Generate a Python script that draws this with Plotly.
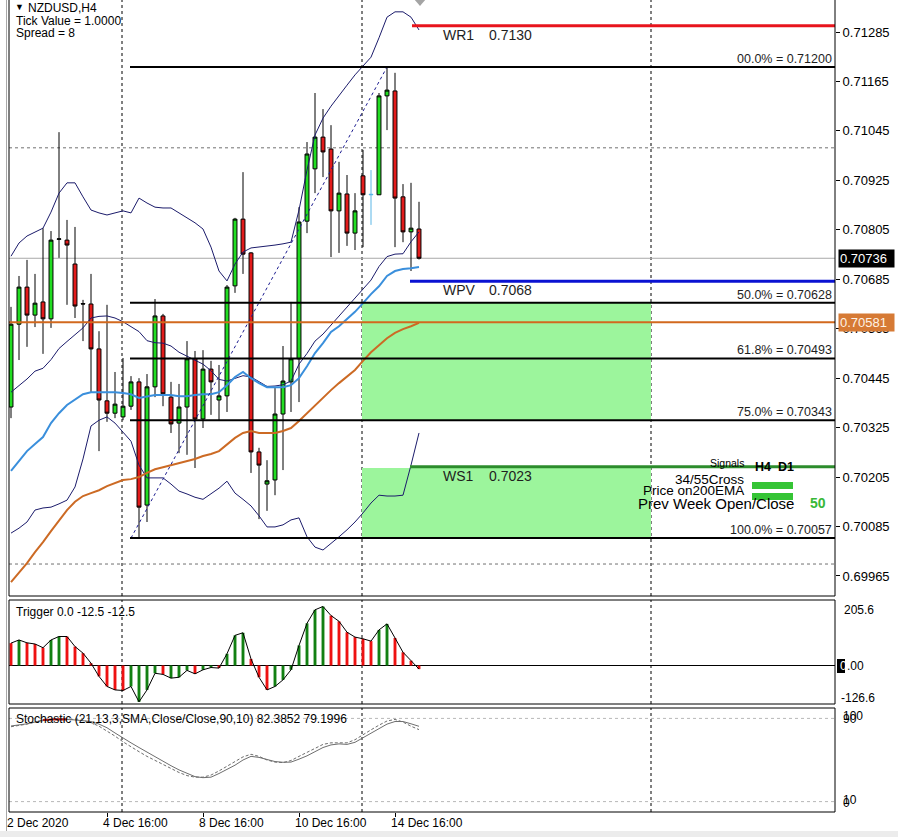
import plotly.graph_objects as go

W, H = 898, 837

# ---------------- data ----------------
opens = [0.70375, 0.70576, 0.70666, 0.70598, 0.70630, 0.70589, 0.70782, 0.70780, 0.70722, 0.70626,
         0.70625, 0.70516, 0.70390, 0.70360, 0.70351, 0.70377, 0.70436, 0.70137, 0.70424, 0.70596,
         0.70399, 0.70336, 0.70375, 0.70492, 0.70346, 0.70467, 0.70392, 0.70402, 0.70669, 0.70831,
         0.70749, 0.70266, 0.70188, 0.70198, 0.70358, 0.70436, 0.70492, 0.70826, 0.70953, 0.71030,
         0.71001, 0.70851, 0.70892, 0.70797, 0.70936, 0.70890, 0.70890, 0.71130, 0.71142, 0.70885,
         0.70800, 0.70807]
highs = [0.70618, 0.70693, 0.70732, 0.70698, 0.70809, 0.70802, 0.71042, 0.70829, 0.70812, 0.70635,
         0.70698, 0.70559, 0.70623, 0.70460, 0.70494, 0.70450, 0.70445, 0.70455, 0.70637, 0.70601,
         0.70436, 0.70431, 0.70535, 0.70511, 0.70513, 0.70487, 0.70477, 0.70671, 0.70834, 0.70945,
         0.70751, 0.70276, 0.70246, 0.70421, 0.70523, 0.70630, 0.70860, 0.71018, 0.71137, 0.71098,
         0.71059, 0.70970, 0.70938, 0.70894, 0.70999, 0.70950, 0.71137, 0.71200, 0.71186, 0.70916,
         0.70919, 0.70873]
lows = [0.70348, 0.70489, 0.70521, 0.70569, 0.70504, 0.70567, 0.70737, 0.70623, 0.70591, 0.70535,
        0.70411, 0.70268, 0.70339, 0.70348, 0.70343, 0.70368, 0.70057, 0.70096, 0.70399, 0.70377,
        0.70312, 0.70263, 0.70259, 0.70227, 0.70324, 0.70356, 0.70341, 0.70363, 0.70652, 0.70698,
        0.70215, 0.70103, 0.70123, 0.70161, 0.70222, 0.70363, 0.70387, 0.70797, 0.70894, 0.70933,
        0.70739, 0.70749, 0.70766, 0.70756, 0.70763, 0.70817, 0.70890, 0.71047, 0.70763, 0.70775,
        0.70705, 0.70733]
closes = [0.70576, 0.70666, 0.70598, 0.70627, 0.70589, 0.70780, 0.70783, 0.70768, 0.70620, 0.70625,
          0.70516, 0.70392, 0.70360, 0.70382, 0.70377, 0.70436, 0.70132, 0.70424, 0.70596, 0.70407,
          0.70334, 0.70375, 0.70492, 0.70346, 0.70467, 0.70436, 0.70402, 0.70666, 0.70831, 0.70746,
          0.70266, 0.70234, 0.70196, 0.70358, 0.70438, 0.70492, 0.70824, 0.70989, 0.71030, 0.70994,
          0.70851, 0.70894, 0.70797, 0.70851, 0.70890, 0.70891, 0.71130, 0.71144, 0.70882, 0.70800,
          0.70809, 0.70736]
special_idx = 45  # light-blue marker bar

bb_upper = [0.70741, 0.70773, 0.70790, 0.70800, 0.70809, 0.70848, 0.70894, 0.70919, 0.70919, 0.70885,
            0.70853, 0.70846, 0.70841, 0.70846, 0.70851, 0.70846, 0.70882, 0.70870, 0.70860, 0.70858,
            0.70858, 0.70846, 0.70834, 0.70822, 0.70807, 0.70763, 0.70705, 0.70681, 0.70722, 0.70751,
            0.70761, 0.70763, 0.70766, 0.70768, 0.70771, 0.70775, 0.70853, 0.70950, 0.71035, 0.71076,
            0.71105, 0.71132, 0.71156, 0.71181, 0.71203, 0.71224, 0.71271, 0.71321, 0.71334, 0.71334,
            0.71321, 0.71290]
bb_middle = [0.70411, 0.70427, 0.70443, 0.70462, 0.70469, 0.70490, 0.70517, 0.70534, 0.70550, 0.70567,
             0.70591, 0.70595, 0.70596, 0.70591, 0.70582, 0.70569, 0.70558, 0.70536, 0.70531, 0.70530,
             0.70523, 0.70508, 0.70499, 0.70489, 0.70479, 0.70463, 0.70442, 0.70438, 0.70444, 0.70451,
             0.70448, 0.70437, 0.70425, 0.70426, 0.70429, 0.70438, 0.70479, 0.70505, 0.70535, 0.70552,
             0.70574, 0.70596, 0.70617, 0.70638, 0.70660, 0.70683, 0.70716, 0.70740, 0.70746, 0.70747,
             0.70776, 0.70800]
bb_lower = [0.70069, 0.70081, 0.70096, 0.70125, 0.70130, 0.70132, 0.70140, 0.70149, 0.70181, 0.70249,
            0.70329, 0.70343, 0.70351, 0.70336, 0.70314, 0.70292, 0.70234, 0.70203, 0.70203, 0.70203,
            0.70188, 0.70171, 0.70164, 0.70156, 0.70151, 0.70164, 0.70178, 0.70195, 0.70166, 0.70151,
            0.70135, 0.70111, 0.70084, 0.70084, 0.70089, 0.70101, 0.70106, 0.70060, 0.70035, 0.70028,
            0.70043, 0.70060, 0.70077, 0.70096, 0.70118, 0.70142, 0.70161, 0.70159, 0.70159, 0.70161,
            0.70234, 0.70312]
ma_blue = [0.70220, 0.70244, 0.70268, 0.70285, 0.70302, 0.70336, 0.70360, 0.70380, 0.70394, 0.70406,
           0.70411, 0.70411, 0.70411, 0.70411, 0.70409, 0.70406, 0.70397, 0.70401, 0.70404, 0.70404,
           0.70404, 0.70401, 0.70401, 0.70404, 0.70406, 0.70406, 0.70411, 0.70428, 0.70448, 0.70460,
           0.70445, 0.70433, 0.70423, 0.70423, 0.70423, 0.70428, 0.70445, 0.70474, 0.70506, 0.70530,
           0.70557, 0.70571, 0.70588, 0.70606, 0.70627, 0.70649, 0.70668, 0.70693, 0.70705, 0.70710,
           0.70712, 0.70715]
ma_orange = [0.69950, 0.69974, 0.69996, 0.70023, 0.70047, 0.70074, 0.70101, 0.70125, 0.70145, 0.70159,
             0.70166, 0.70173, 0.70183, 0.70190, 0.70198, 0.70200, 0.70205, 0.70215, 0.70224, 0.70229,
             0.70234, 0.70239, 0.70244, 0.70249, 0.70256, 0.70261, 0.70268, 0.70285, 0.70300, 0.70312,
             0.70317, 0.70312, 0.70312, 0.70312, 0.70317, 0.70324, 0.70341, 0.70360, 0.70380, 0.70399,
             0.70416, 0.70433, 0.70448, 0.70465, 0.70487, 0.70508, 0.70525, 0.70542, 0.70555, 0.70564,
             0.70571, 0.70579]

trigger = [78, 89, 79, 75, 62, 89, 101, 101, 66, 43,
           8, -38, -73, -85, -87, -73, -126.6, -85, -27, -31,
           -44, -41, -17, -29, -15, -7, -9, 41, 105, 114,
           23, -41, -85, -73, -50, -15, 70, 147, 194, 205.6,
           174, 154, 116, 99, 93, 85, 124, 145, 96, 46,
           17, -12.5]
trigger_dir = ["r", "g", "r", "r", "r", "g", "g", "r", "r", "r",
               "r", "r", "r", "r", "r", "g", "g", "g", "g", "r",
               "g", "g", "g", "r", "g", "g", "r", "g", "g", "g",
               "r", "r", "r", "g", "g", "g", "g", "g", "g", "g",
               "r", "r", "r", "r", "r", "r", "g", "g", "r", "r",
               "r", "r"]

stoch_main = [82.7, 83.5, 84.8, 86.5, 88.5, 89.0, 89.2, 89.0, 88.5, 88.0,
              87.0, 84.5, 81.0, 76.0, 71.0, 66.5, 62.0, 57.5, 53.0, 49.0,
              44.5, 40.5, 37.0, 34.0, 33.0, 33.5, 37.0, 41.0, 45.0, 50.0,
              53.5, 52.5, 50.5, 48.5, 47.8, 48.0, 50.8, 54.0, 58.0, 62.0,
              64.5, 65.5, 65.0, 67.0, 71.4, 76.0, 80.5, 84.5, 87.0, 87.0,
              84.8, 82.4]
stoch_signal = [82.0, 83.0, 84.5, 86.5, 88.0, 89.0, 89.5, 89.5, 89.0, 88.0,
                86.0, 82.5, 78.0, 73.0, 67.5, 62.5, 58.0, 53.5, 49.5, 45.5,
                41.5, 38.0, 35.0, 33.5, 33.5, 35.5, 39.5, 44.0, 48.5, 53.0,
                55.5, 53.5, 50.0, 48.0, 47.5, 49.5, 53.5, 57.5, 61.5, 65.0,
                66.5, 66.5, 66.5, 69.5, 74.5, 79.0, 83.5, 87.5, 89.0, 86.5,
                82.5, 79.2]
stoch_red_idx = [4, 5, 6, 7]

price_ticks = [0.71285, 0.71165, 0.71045, 0.70925, 0.70805, 0.70685,
               0.70565, 0.70445, 0.70325, 0.70205, 0.70085, 0.69965]
date_labels = ["2 Dec 2020", "4 Dec 16:00", "8 Dec 16:00", "10 Dec 16:00", "14 Dec 16:00"]
date_label_idx = [0, 12, 24, 36, 48]

fib_names = ["00.0%", "50.0%", "61.8%", "75.0%", "100.0%"]
fib_levels = [0.71200, 0.70628, 0.70493, 0.70343, 0.70057]
fib_low_idx, fib_high_idx = 15, 47

pivot_names = ["WR1", "WPV", "WS1"]
pivot_values = [0.7130, 0.7068, 0.7023]
pivot_colors = ["#e8141c", "#0a12d2", "#2c8c2c"]

zone_top = [0.70628, 0.70227]
zone_bottom = [0.70343, 0.70057]

last_price = 0.70736
ref_price = 0.70581
grid_idx = [13.875, 43.875, 80]
hgrid_prices = [0.71004, 0.69994]

signal_rows = ["34/55Cross", "Price on200EMA", "Prev Week Open/Close"]
signal_score = "50"

# ---------------- geometry helpers (pixels -> paper / bar index) ----------------
FONT = "Liberation Sans, Arial, sans-serif"
PL, PR = 9, 835
MAIN = (0, 596)
TRIG = (600, 704)
STO = (708, 812)
BAR_PX, X0_PX = 8, 11


def X(px):
    return px / W


def Y(py):
    return 1 - py / H


def xi(px):
    return (px - X0_PX) / BAR_PX


main_range = [0.699164, 0.713627]
trig_range = [-134.1, 228.2]
idx = list(range(len(opens)))

GREEN, RED = "#22dd22", "#e31b1b"

fig = go.Figure()


def masked(a, keep):
    return [v if keep(i) else None for i, v in enumerate(a)]


normal = lambda i: i != special_idx
special = lambda i: i == special_idx

fig.add_trace(go.Candlestick(
    x=idx, open=masked(opens, normal), high=masked(highs, normal),
    low=masked(lows, normal), close=masked(closes, normal),
    increasing=dict(line=dict(color="black", width=1), fillcolor=GREEN),
    decreasing=dict(line=dict(color="black", width=1), fillcolor=RED),
    whiskerwidth=0, hoverinfo="skip", xaxis="x", yaxis="y"))
fig.add_trace(go.Candlestick(
    x=idx, open=masked(opens, special), high=masked(highs, special),
    low=masked(lows, special), close=masked(closes, special),
    increasing=dict(line=dict(color="#5ab6e6", width=1), fillcolor="#5ab6e6"),
    decreasing=dict(line=dict(color="#5ab6e6", width=1), fillcolor="#5ab6e6"),
    whiskerwidth=0, hoverinfo="skip", xaxis="x", yaxis="y"))

for series in (bb_upper, bb_middle, bb_lower):
    fig.add_trace(go.Scatter(x=idx, y=series, mode="lines",
                             line=dict(color="#1b1b6b", width=1), hoverinfo="skip"))
fig.add_trace(go.Scatter(x=idx, y=ma_orange, mode="lines",
                         line=dict(color="#cc6a24", width=2), hoverinfo="skip"))
fig.add_trace(go.Scatter(x=idx, y=ma_blue, mode="lines",
                         line=dict(color="#3a8fdc", width=2), hoverinfo="skip"))
fig.add_trace(go.Scatter(x=[fib_low_idx, fib_high_idx], y=[fib_levels[-1], fib_levels[0]],
                         mode="lines", line=dict(color="#1c1c90", width=1, dash="3px,3px"),
                         hoverinfo="skip"))

# trigger panel
fig.add_trace(go.Bar(x=idx, y=trigger, width=0.36,
                     marker=dict(color=["#128012" if d == "g" else "#ee1111" for d in trigger_dir],
                                 line=dict(width=0)),
                     xaxis="x2", yaxis="y2", hoverinfo="skip"))
fig.add_trace(go.Scatter(x=idx, y=trigger, mode="lines", line=dict(color="black", width=1),
                         xaxis="x2", yaxis="y2", hoverinfo="skip"))

# stochastic panel
fig.add_trace(go.Scatter(x=idx, y=stoch_signal, mode="lines",
                         line=dict(color="#6e6e6e", width=1, dash="3px,2px"),
                         xaxis="x3", yaxis="y3", hoverinfo="skip"))
fig.add_trace(go.Scatter(x=idx, y=stoch_main, mode="lines", line=dict(color="#6e6e6e", width=1),
                         xaxis="x3", yaxis="y3", hoverinfo="skip"))
fig.add_trace(go.Scatter(x=stoch_red_idx, y=[stoch_main[i] for i in stoch_red_idx], mode="lines",
                         line=dict(color="#b01818", width=2),
                         xaxis="x3", yaxis="y3", hoverinfo="skip"))

# ---------------- shapes ----------------
shapes = []
x_end = xi(PR)
# green zones
for t, b in zip(zone_top, zone_bottom):
    shapes.append(dict(type="rect", xref="x", yref="y", x0=grid_idx[1], x1=grid_idx[2], y0=b, y1=t,
                       fillcolor="#9cf59c", line=dict(width=0), layer="below"))
# vertical dashed grid
for g in grid_idx:
    for top, bot in (MAIN, TRIG, STO):
        shapes.append(dict(type="line", xref="x", yref="paper", x0=g, x1=g, y0=Y(bot), y1=Y(top),
                           line=dict(color="black", width=1, dash="3px,3px"), layer="below"))
# horizontal dashed grid in main
for p in hgrid_prices:
    shapes.append(dict(type="line", xref="paper", yref="y", x0=X(PL), x1=X(PR), y0=p, y1=p,
                       line=dict(color="#707070", width=1, dash="3px,3px"), layer="below"))
# stochastic levels
for lv in (90, 10):
    shapes.append(dict(type="line", xref="paper", yref="y3", x0=X(PL), x1=X(PR), y0=lv, y1=lv,
                       line=dict(color="#b8b8b8", width=1, dash="3px,3px"), layer="below"))
# trigger zero line
shapes.append(dict(type="line", xref="paper", yref="y2", x0=X(PL), x1=X(PR), y0=0, y1=0,
                   line=dict(color="black", width=1), layer="below"))
# current price & reference lines
shapes.append(dict(type="line", xref="paper", yref="y", x0=X(PL), x1=X(PR), y0=last_price, y1=last_price,
                   line=dict(color="#a8a8a8", width=1), layer="below"))
shapes.append(dict(type="line", xref="paper", yref="y", x0=X(PL), x1=X(PR), y0=ref_price, y1=ref_price,
                   line=dict(color="#d2691e", width=2), layer="above"))
# fibonacci levels
for lv in fib_levels:
    shapes.append(dict(type="line", xref="x", yref="y", x0=xi(130), x1=x_end, y0=lv, y1=lv,
                       line=dict(color="black", width=2), layer="above"))
# pivots
pivot_start = [xi(412), xi(410), xi(410)]
for v, c, s in zip(pivot_values, pivot_colors, pivot_start):
    shapes.append(dict(type="line", xref="x", yref="y", x0=s, x1=x_end, y0=v, y1=v,
                       line=dict(color=c, width=3), layer="above"))
# signal bars
for y0, y1 in ((482, 489), (493, 500)):
    shapes.append(dict(type="rect", xref="paper", yref="paper", x0=X(752), x1=X(793), y0=Y(y1), y1=Y(y0),
                       fillcolor="#35c435", line=dict(width=0), layer="above"))
# panel frames
for top, bot in ((-3, MAIN[1]), TRIG, STO):
    shapes.append(dict(type="rect", xref="paper", yref="paper", x0=X(PL), x1=X(PR), y0=Y(bot), y1=Y(top),
                       line=dict(color="black", width=1), fillcolor="rgba(0,0,0,0)", layer="above"))
# window frame bits
shapes.append(dict(type="line", xref="paper", yref="paper", x0=X(6.5), x1=X(6.5), y0=0, y1=1,
                   line=dict(color="#a8a8a8", width=1)))
shapes.append(dict(type="rect", xref="paper", yref="paper", x0=0, x1=1, y0=0, y1=Y(831),
                   fillcolor="#ececec", line=dict(width=0)))
shapes.append(dict(type="path", xref="paper", yref="paper",
                   path=f"M {X(414)},{Y(-1)} L {X(420)},{Y(6)} L {X(426)},{Y(-1)} Z",
                   fillcolor="#a4a4a4", line=dict(width=0)))
# trigger "0" highlight box
shapes.append(dict(type="rect", xref="paper", yref="paper", x0=X(837), x1=X(845), y0=Y(673), y1=Y(659),
                   fillcolor="black", line=dict(width=0)))

# ---------------- annotations ----------------
anns = []


def text(t, x, y, size=12, color="black", xanchor="left", yanchor="middle", bold=False,
         bgcolor=None, xref="paper", yref="paper", width=None):
    a = dict(text=f"<b>{t}</b>" if bold else t,
             x=X(x) if xref == "paper" else x, y=Y(y) if yref == "paper" else y,
             xref=xref, yref=yref, xanchor=xanchor, yanchor=yanchor, showarrow=False,
             font=dict(family=FONT, size=size, color=color), borderpad=1 if bgcolor else 0)
    if bgcolor:
        a["bgcolor"] = bgcolor
    if width:
        a["width"] = width
        a["align"] = "left"
    anns.append(a)


text("\u25bc", 14, 7, size=9)
text("NZDUSD,H4", 27, 8)
text("Tick Value = 1.0000", 15, 21)
text("Spread = 8", 15, 33)

for name, lv in zip(fib_names, fib_levels):
    text(f"{name} = {lv:.5f}", 833, lv, size=12.5, color="#1e1e1e", xanchor="right",
         yanchor="bottom", xref="paper", yref="y")

for name, v in zip(pivot_names, pivot_values):
    text(name, 442, v, size=14, color="#1e1e1e", yanchor="top", yref="y")
    text(f"{v:.4f}", 488, v, size=14, color="#1e1e1e", yanchor="top", yref="y")

text("Signals", 745, 463, size=10.5, xanchor="right")
text("H4  D1", 754, 467, size=12.5, bold=True)
text(signal_rows[0], 745, 479, size=13.5, xanchor="right")
text(signal_rows[1], 745, 491, size=13.5, xanchor="right")
text(signal_rows[2], 795, 503, size=15, xanchor="right")
text(signal_score, 809, 503, size=14, color="#38b838", bold=True)

text(f"{last_price:.5f}", 838, last_price, size=13, color="white", bgcolor="black",
     yref="y", width=53)
text(f"{ref_price:.5f}", 838, ref_price, size=13, color="#fff3e6", bgcolor="#d67a35",
     yref="y", width=53)

text("Trigger 0.0 -12.5 -12.5", 15, 612)
text("205.6", 843, 610)
text("0", 838.5, 666, color="white")
text(".00", 846, 666)
text("-126.6", 840, 698)

text("Stochastic (21,13,3,SMA,Close/Close,90,10) 82.3852 79.1996", 15, 719)
text("100", 842, 716)
text("90", 842, 719)
text("10", 842, 800)
text("0", 842, 803)

for lab, i in zip(date_labels, date_label_idx):
    text(lab, X0_PX + BAR_PX * i - 5, 823)

# ---------------- layout ----------------
xdom = [X(PL), X(PR)]
xr = [xi(PL), xi(PR)]
fig.update_layout(
    width=W, height=H, margin=dict(l=0, r=0, t=0, b=0),
    paper_bgcolor="white", plot_bgcolor="white", showlegend=False,
    font=dict(family=FONT, size=12, color="black"),
    xaxis=dict(domain=xdom, range=xr, anchor="y", visible=False, rangeslider=dict(visible=False)),
    xaxis2=dict(domain=xdom, range=xr, anchor="y2", matches="x", visible=False),
    xaxis3=dict(domain=xdom, range=xr, anchor="y3", matches="x", showgrid=False, zeroline=False,
                showticklabels=False, ticks="outside", ticklen=4, tickcolor="black",
                tickvals=date_label_idx[1:], showline=False),
    yaxis=dict(domain=[Y(MAIN[1]), Y(MAIN[0])], range=main_range, anchor="x", side="right",
               tickvals=price_ticks, ticktext=[f"{p:.5f}" for p in price_ticks],
               ticks="outside", ticklen=4, tickcolor="black", showgrid=False, zeroline=False,
               tickfont=dict(size=13, family=FONT, color="black")),
    yaxis2=dict(domain=[Y(TRIG[1]), Y(TRIG[0])], range=trig_range, anchor="x2", side="right",
                showgrid=False, zeroline=False, showticklabels=False, ticks=""),
    yaxis3=dict(domain=[Y(STO[1]), Y(STO[0])], range=[0, 100], anchor="x3", side="right",
                showgrid=False, zeroline=False, showticklabels=False, ticks=""),
    shapes=shapes, annotations=anns, hovermode=False,
)

fig.write_html(
    "out.html",
    config={"displayModeBar": False},
    post_script="document.body.style.margin='0';document.body.style.padding='0';"
                "document.documentElement.style.overflow='hidden';",
)
